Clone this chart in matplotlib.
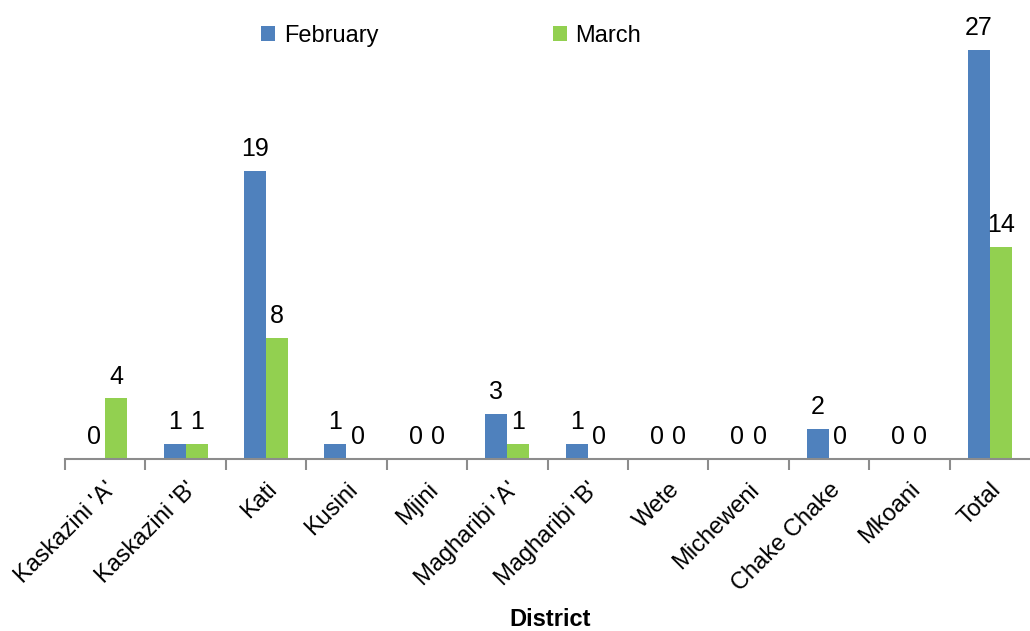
import matplotlib
matplotlib.use("Agg")
import matplotlib.pyplot as plt
import numpy as np

districts = ["Kaskazini 'A'", "Kaskazini 'B'", "Kati", "Kusini", "Mjini",
             "Magharibi 'A'", "Magharibi 'B'", "Wete", "Micheweni",
             "Chake Chake", "Mkoani", "Total"]
february = [0, 1, 19, 1, 0, 3, 1, 0, 0, 2, 0, 27]
march = [4, 1, 8, 0, 0, 1, 0, 0, 0, 0, 0, 14]

plt.rcParams['font.family'] = ['Liberation Sans', 'DejaVu Sans']

fig = plt.figure(figsize=(10.30, 6.31), dpi=100)
ax = fig.add_axes([65/1030, (631-459)/631, 965/1030, 459/631])

x = np.arange(len(districts))
w = 0.275
blue = '#4F81BD'
green = '#92D050'
b1 = ax.bar(x - w/2, february, w, color=blue, label='February')
b2 = ax.bar(x + w/2, march, w, color=green, label='March')
ax.bar_label(b1, padding=7, fontsize=18)
ax.bar_label(b2, padding=7, fontsize=18)

ax.set_xlim(-0.5, len(districts) - 0.5)
ax.set_ylim(0, 30.3)
for s in ['top', 'right', 'left']:
    ax.spines[s].set_visible(False)
ax.spines['bottom'].set_color('#8c8c8c')
ax.spines['bottom'].set_linewidth(1.5)
ax.set_yticks([])
ax.set_xticks(x)
ax.set_xticklabels(districts, rotation=45, ha='right', rotation_mode='anchor', fontsize=17)
ax.tick_params(axis='x', which='major', length=0, pad=14)
ax.set_xticks(np.arange(len(districts)) - 0.5, minor=True)
ax.tick_params(axis='x', which='minor', length=8, width=1.5, color='#8c8c8c', direction='out')

fig.text(550/1030, 1 - 626/631, 'District', ha='center', va='baseline', fontsize=17, fontweight='bold')

fig.legend(handles=[b1, b2], labels=['February', 'March'], loc='center left',
           bbox_to_anchor=(240/1030, 1 - 36/631), ncol=2, frameon=False, fontsize=17,
           columnspacing=7.4, handlelength=0.6, handleheight=0.6, handletextpad=0.35)

fig.savefig('out.png', dpi=100)
